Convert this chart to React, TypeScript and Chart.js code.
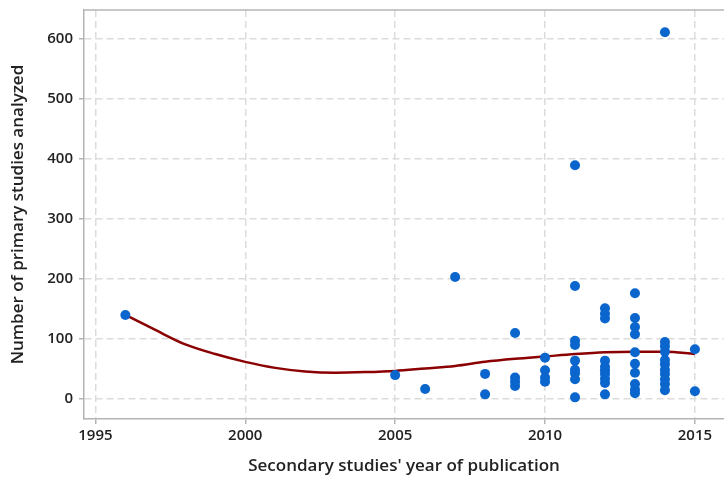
import { useEffect, useRef } from "react";
import { Chart, registerables } from "chart.js";

Chart.register(...registerables);

const scatterYears = [
  1996,
  2005,
  2006,
  2007,
  2008, 2008,
  2009, 2009, 2009, 2009,
  2010, 2010, 2010, 2010,
  2011, 2011, 2011, 2011, 2011, 2011, 2011, 2011, 2011,
  2012, 2012, 2012, 2012, 2012, 2012, 2012, 2012, 2012, 2012,
  2013, 2013, 2013, 2013, 2013, 2013, 2013, 2013, 2013, 2013,
  2014, 2014, 2014, 2014, 2014, 2014, 2014, 2014, 2014, 2014, 2014,
  2015, 2015,
];
const scatterCounts = [
  140,
  40,
  17,
  203,
  42, 8,
  110, 36, 29, 22,
  69, 48, 36, 29,
  389, 188, 97, 90, 64, 49, 43, 33, 3,
  151, 142, 134, 64, 54, 48, 42, 34, 27, 8,
  176, 135, 120, 108, 78, 59, 44, 25, 16, 10,
  610, 95, 88, 79, 65, 58, 49, 42, 33, 25, 15,
  83, 13,
];

const trendYears = [1996, 1997, 1998, 1999, 2000, 2001, 2002, 2003, 2004, 2005, 2006, 2007, 2008, 2009, 2010, 2011, 2012, 2013, 2014, 2015];
const trendCounts = [140, 115, 91, 75, 62, 52, 46, 44, 45, 47, 51, 55, 62, 67, 71, 75, 78, 79, 79, 75];

const xTickValues = [1995, 2000, 2005, 2010, 2015];
const yTickValues = [0, 100, 200, 300, 400, 500, 600];

const xTitle = "Secondary studies' year of publication";
const yTitle = "Number of primary studies analyzed";

const FONT = "'Open Sans', 'DejaVu Sans', sans-serif";

export default function App() {
  const canvasRef = useRef<HTMLCanvasElement | null>(null);

  useEffect(() => {
    if (!canvasRef.current) return;
    const framePlugin = {
      id: "frame",
      afterDraw(chart: any) {
        const { ctx, chartArea } = chart;
        ctx.save();
        ctx.strokeStyle = "#b4b4b4";
        ctx.lineWidth = 1.5;
        ctx.beginPath();
        ctx.moveTo(chartArea.left, chartArea.top);
        ctx.lineTo(chart.width, chartArea.top);
        ctx.stroke();
        ctx.restore();
      },
    };
    const chart = new Chart(canvasRef.current, {
      type: "scatter",
      data: {
        datasets: [
          {
            type: "scatter",
            data: scatterYears.map((x, i) => ({ x, y: scatterCounts[i] })),
            backgroundColor: "#0a66cc",
            borderColor: "#0a66cc",
            pointRadius: 5,
            pointBorderWidth: 0,
            order: 0,
          } as any,
          {
            type: "line",
            data: trendYears.map((x, i) => ({ x, y: trendCounts[i] })),
            borderColor: "#8b0000",
            borderWidth: 2.5,
            pointRadius: 0,
            fill: false,
            tension: 0.4,
            cubicInterpolationMode: "monotone",
            order: 1,
          } as any,
        ],
      },
      options: {
        animation: false,
        responsive: true,
        maintainAspectRatio: false,
        layout: { padding: { top: 10, right: 0, left: 0, bottom: 0 } },
        plugins: {
          legend: { display: false },
          tooltip: { enabled: false },
        },
        scales: {
          x: {
            type: "linear",
            min: 1994.62,
            max: 2015.97,
            afterBuildTicks: (scale: any) => {
              scale.ticks = xTickValues.map((v) => ({ value: v }));
            },
            afterFit: (scale: any) => {
              scale.height = 60;
              scale.paddingLeft = 0;
              scale.paddingRight = 0;
            },
            grid: {
              color: "#dcdcdc",
              lineWidth: 1.5,
              tickLength: 5,
              tickColor: "#b4b4b4",
              tickBorderDash: [],
            },
            border: { display: true, color: "#b4b4b4", width: 1.5, dash: [7, 4] },
            ticks: {
              color: "#222",
              padding: 3,
              font: { family: FONT, size: 15, weight: 600 },
              callback: (v: any) => String(v),
            },
            title: {
              display: true,
              text: xTitle,
              color: "#222",
              font: { family: FONT, size: 17, weight: 600 },
              padding: { top: 3, bottom: 3 },
            },
          },
          y: {
            type: "linear",
            min: -33,
            max: 647,
            afterBuildTicks: (scale: any) => {
              scale.ticks = yTickValues.map((v) => ({ value: v }));
            },
            afterFit: (scale: any) => {
              scale.width = 84;
              scale.paddingTop = 0;
              scale.paddingBottom = 0;
            },
            grid: {
              color: "#dcdcdc",
              lineWidth: 1.5,
              tickLength: 5,
              tickColor: "#b4b4b4",
              tickBorderDash: [],
            },
            border: { display: true, color: "#b4b4b4", width: 1.5, dash: [7, 4] },
            ticks: {
              color: "#222",
              padding: 6,
              font: { family: FONT, size: 15, weight: 600 },
              callback: (v: any) => String(v),
            },
            title: {
              display: true,
              text: yTitle,
              color: "#222",
              font: { family: FONT, size: 17, weight: 600 },
              padding: { top: 8, bottom: 3 },
            },
          },
        },
      },
      plugins: [framePlugin],
    });
    return () => chart.destroy();
  }, []);

  return (
    <div style={{ position: "fixed", left: 0, top: 0, width: 724, height: 479, overflow: "hidden", background: "#fff" }}>
      <div style={{ position: "relative", width: 729, height: 479 }}>
        <canvas ref={canvasRef} />
      </div>
    </div>
  );
}
